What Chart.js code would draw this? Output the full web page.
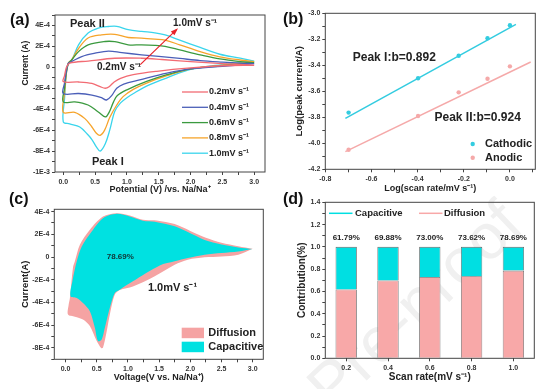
<!DOCTYPE html>
<html>
<head>
<meta charset="utf-8">
<script src="https://cdn.jsdelivr.net/npm/chart.js@4.4.1/dist/chart.umd.min.js"></script>
<style>
body{margin:0;background:#fff;width:553px;height:389px;overflow:hidden;position:relative}
.p{position:absolute}
</style>
</head>
<body>
<div class="p" style="left:0;top:0;width:276px;height:195px"><canvas id="ca"></canvas></div>
<div class="p" style="left:276px;top:0;width:277px;height:195px"><canvas id="cb"></canvas></div>
<div class="p" style="left:0;top:185px;width:276px;height:204px"><canvas id="cc"></canvas></div>
<div class="p" style="left:276px;top:185px;width:277px;height:204px"><canvas id="cd"></canvas></div>
<script>
// (a) CV loops, current in units of 1E-4 A; each loop runs 3.0V -> 0V -> 3.0V
const rates = ["0.2mV s⁻¹","0.4mV s⁻¹","0.6mV s⁻¹","0.8mV s⁻¹","1.0mV s⁻¹"];
const v02 = [3.0,2.5,2.0,1.47,1.1,0.9,0.8,0.72,0.66,0.58,0.45,0.24,0.0, 0.02,0.05,0.1,0.39,0.81,1.23,1.55,2.0,2.5,3.0];
const i02 = [0.2,0.15,-0.06,-0.38,-0.7,-1.05,-1.4,-1.85,-2.0,-1.85,-1.54,-1.4,-1.37, -0.8,0.0,0.4,0.6,0.87,0.87,0.75,0.55,0.35,0.2];
const v04 = [3.0,2.5,2.0,1.63,1.2,0.95,0.84,0.76,0.68,0.6,0.45,0.24,0.0, 0.02,0.05,0.08,0.13,0.29,0.5,0.71,0.92,1.23,1.5,1.83,2.15,2.5,2.78,3.0];
const i04 = [0.35,0.1,-0.15,-0.55,-1.2,-1.6,-2.0,-2.7,-3.12,-2.9,-2.65,-2.5,-2.5, -1.5,-0.3,0.4,0.55,1.03,1.35,1.55,1.4,1.2,1.05,0.85,0.65,0.5,0.4,0.35];
const v06 = [3.0,2.5,2.0,1.63,1.31,1.0,0.85,0.79,0.72,0.66,0.55,0.39,0.18,0.0, 0.02,0.05,0.08,0.13,0.24,0.39,0.66,0.81,1.02,1.23,1.44,1.6,1.83,2.15,2.46,2.78,3.0];
const i06 = [0.45,0.15,-0.15,-0.7,-1.35,-2.15,-2.7,-3.3,-4.3,-4.74,-4.26,-3.6,-3.3,-3.3, -2.0,-0.4,0.4,0.7,1.5,2.15,2.47,2.45,2.15,2.15,2.1,2.0,1.67,1.2,0.8,0.55,0.45];
const v08 = [3.0,2.5,2.0,1.63,1.31,1.1,0.94,0.84,0.73,0.65,0.58,0.52,0.45,0.34,0.18,0.0, 0.02,0.05,0.08,0.13,0.24,0.39,0.6,0.81,1.02,1.23,1.44,1.6,1.83,2.15,2.46,2.78,3.0];
const i08 = [0.55,0.2,-0.15,-0.8,-1.5,-2.1,-2.8,-3.6,-4.8,-6.0,-6.5,-6.3,-5.7,-4.9,-4.3,-4.3, -2.5,-0.5,0.4,0.7,1.8,2.8,3.1,3.15,2.85,2.8,2.7,2.6,2.15,1.5,1.0,0.7,0.55];
const v10 = [3.0,2.5,2.0,1.63,1.36,1.13,1.0,0.9,0.81,0.73,0.66,0.58,0.52,0.45,0.38,0.26,0.1,0.0, 0.02,0.05,0.08,0.13,0.24,0.39,0.55,0.71,0.84,1.02,1.23,1.44,1.6,1.83,2.15,2.46,2.78,3.0];
const i10 = [0.58,0.26,-0.2,-1.0,-1.66,-2.4,-2.9,-3.4,-4.2,-6.0,-7.3,-8.0,-7.6,-6.9,-6.4,-5.7,-5.4,-5.2, -3.0,-0.5,0.3,0.6,2.15,3.27,3.75,3.9,3.92,3.6,3.43,3.3,3.1,2.6,1.9,1.25,0.87,0.6];
const yTicksA = {"4":"4E-4","2":"2E-4","0":"0","-2":"-2E-4","-4":"-4E-4","-6":"-6E-4","-8":"-8E-4","-10":"-1E-3"};

// (b) log peak current vs log scan rate
const logRate = [-0.699,-0.398,-0.222,-0.097,0.0];
const cathodic = [-3.764,-3.50,-3.326,-3.192,-3.092];
const anodic = [-4.05,-3.79,-3.608,-3.503,-3.408];
const cathFitX = [-0.713,0.026];
const cathFitY = [-3.808,-3.085];
const anodFitX = [-0.713,0.09];
const anodFitY = [-4.064,-3.375];

// (c) 1.0 mV/s split into total (diffusion) and capacitive loops
const vTotal = [3.0,2.77,2.5,2.23,1.96,1.75,1.43,1.08,0.87,0.79,0.71,0.66,0.6,0.57,0.5,0.39,0.28,0.15,0.04, 0.05,0.07,0.12,0.15,0.23,0.39,0.6,0.82,1.03,1.24,1.46,1.75,2.0,2.25,2.5,2.77,3.0];
const iTotal = [0.72,0.2,0.05,-0.03,-0.24,-0.68,-1.7,-2.6,-2.9,-3.3,-5.06,-6.53,-7.98,-8.0,-7.4,-6.08,-5.5,-5.25,-5.06, -4.2,-3.6,-0.9,-0.38,1.08,2.4,3.56,3.86,3.65,3.27,3.22,2.9,2.3,1.7,1.25,0.95,0.72];
const vCap = [3.0,2.77,2.5,2.23,1.96,1.75,1.51,1.08,0.87,0.79,0.71,0.63,0.58,0.52,0.47,0.39,0.28,0.18,0.08, 0.11,0.18,0.26,0.42,0.6,0.82,1.03,1.24,1.43,1.75,1.96,2.23,2.5,2.77,3.0];
const iCap = [0.7,0.49,0.35,0.2,-0.09,-0.38,-0.75,-2.14,-2.87,-3.16,-4.47,-6.23,-7.25,-7.4,-6.23,-4.77,-4.04,-3.6,-3.45, -2.14,-0.38,0.93,2.25,3.42,3.8,3.57,3.2,3.1,2.7,2.2,1.5,1.1,0.84,0.7];

// (d) contribution bars
const scanRates = ["0.2","0.4","0.6","0.8","1.0"];
const lowerPart = [0.6179,0.6988,0.7300,0.7362,0.7869];
const upperPart = [0.3821,0.3012,0.2700,0.2638,0.2131];
const pctLabels = ["61.79%","69.88%","73.00%","73.62%","78.69%"];

const FAM = '"Liberation Sans", Arial, sans-serif';
const f = s => 'bold ' + s + 'px ' + FAM;
Chart.defaults.font.family = FAM;
Chart.defaults.font.weight = 'bold';
Chart.defaults.color = '#333';
Chart.defaults.animation = false;
Chart.defaults.maintainAspectRatio = false;
Chart.defaults.plugins.legend.display = false;
Chart.defaults.plugins.tooltip.enabled = false;

const pts = (xs, ys) => xs.map((x, i) => ({x: x, y: ys[i]}));
const isStep = (v, s) => Math.abs(v / s - Math.round(v / s)) < 1e-6;
const fix1 = v => Math.abs(v) < 1e-9 ? '0.0' : v.toFixed(1);

function axis(o) {
  return {
    type: o.type || 'linear', min: o.min, max: o.max, stacked: o.stacked,
    offset: o.offset || false,
    border: {display: false},
    grid: {drawOnChartArea: false, drawTicks: true, tickLength: 3, tickColor: '#444', offset: false},
    ticks: {stepSize: o.step, includeBounds: false, autoSkip: false, maxRotation: 0, padding: o.pad, font: {size: 7}, color: '#333', callback: o.cb},
    title: {display: o.title !== '', text: o.title, font: {size: o.ts || 9}, color: '#222', padding: o.tp},
    afterFit: o.fit
  };
}

function panelPlugin(label, lx, ly, draw) {
  return {
    id: 'panel' + label,
    afterDraw(chart) {
      const ctx = chart.ctx, a = chart.chartArea;
      ctx.save();
      ctx.strokeStyle = '#444'; ctx.lineWidth = 1;
      ctx.strokeRect(a.left, a.top, a.right - a.left, a.bottom - a.top);
      ctx.fillStyle = '#111'; ctx.font = f(16); ctx.textBaseline = 'middle'; ctx.textAlign = 'left';
      ctx.fillText(label, lx, ly);
      if (draw) draw(chart, ctx, a);
      ctx.restore();
    }
  };
}

function text(ctx, s, x, y, size, color, align) {
  ctx.font = f(size); ctx.fillStyle = color || '#222';
  ctx.textAlign = align || 'left'; ctx.textBaseline = 'middle';
  ctx.fillText(s, x, y);
}

// ---------- (a)
const colorsA = ['#f26b73','#4b5fb8','#3b9a3f','#f6a42b','#3ad5ec'];
const loopsA = [[v02,i02],[v04,i04],[v06,i06],[v08,i08],[v10,i10]];
new Chart(document.getElementById('ca'), {
  type: 'line',
  data: {
    datasets: loopsA.map((l, k) => ({
      label: rates[k], data: pts(l[0], l[1]), borderColor: colorsA[k],
      borderWidth: 1.3, pointRadius: 0, tension: 0.35, fill: false
    }))
  },
  options: {
    layout: {padding: {top: 15, right: 11, left: 0, bottom: 0}},
    scales: {
      x: axis({min: -0.13, max: 3.17, step: 0.25, pad: 3, title: 'Potential (V) /vs. Na/Na⁺', tp: {top: 0, bottom: 0},
        cb: v => isStep(v, 0.5) ? fix1(v) : '', fit: s => { s.height = 23; }}),
      y: axis({min: -10, max: 5, step: 1, pad: 2, title: '',
        cb: v => isStep(v, 2) ? yTicksA[String(Math.round(v))] : '', fit: s => { s.width = 55; }})
    }
  },
  plugins: [panelPlugin('(a)', 10, 21, (chart, ctx, a) => {
    const X = v => chart.scales.x.getPixelForValue(v), Y = v => chart.scales.y.getPixelForValue(v);
    // y axis title sits level with the zero line in the original
    ctx.save(); ctx.translate(26, Y(0.4)); ctx.rotate(-Math.PI / 2);
    text(ctx, 'Current (A)', 0, 0, 8.5, '#222', 'center'); ctx.restore();
    text(ctx, 'Peak II', X(0.105), Y(4.1), 11, '#222');
    text(ctx, 'Peak I', X(0.45), Y(-9.07), 11, '#222');
    text(ctx, rates[4], X(1.725), Y(4.2), 10, '#222');
    text(ctx, rates[0], X(0.53), Y(-0.03), 10, '#222');
    // arrow
    const x1 = X(1.21), y1 = Y(0.26), x2 = X(1.78), y2 = Y(3.6);
    ctx.strokeStyle = '#e8232a'; ctx.fillStyle = '#e8232a'; ctx.lineWidth = 1.2;
    ctx.beginPath(); ctx.moveTo(x1, y1); ctx.lineTo(x2, y2); ctx.stroke();
    const ang = Math.atan2(y2 - y1, x2 - x1);
    ctx.beginPath(); ctx.moveTo(x2 + 2 * Math.cos(ang), y2 + 2 * Math.sin(ang));
    ctx.lineTo(x2 - 6 * Math.cos(ang - 0.45), y2 - 6 * Math.sin(ang - 0.45));
    ctx.lineTo(x2 - 6 * Math.cos(ang + 0.45), y2 - 6 * Math.sin(ang + 0.45));
    ctx.closePath(); ctx.fill();
    // legend
    chart.data.datasets.forEach((d, k) => {
      const y = 92 + k * 15.3;
      ctx.strokeStyle = d.borderColor; ctx.lineWidth = 1.3;
      ctx.beginPath(); ctx.moveTo(182, y); ctx.lineTo(208, y); ctx.stroke();
      text(ctx, d.label, 209, y, 9, '#222');
    });
  })]
});

// ---------- (b)
new Chart(document.getElementById('cb'), {
  type: 'line',
  data: {
    datasets: [
      {label: 'Cathodic', data: pts(logRate, cathodic), showLine: false, pointRadius: 2.2, pointBackgroundColor: '#33cce0', pointBorderWidth: 0},
      {label: 'Anodic', data: pts(logRate, anodic), showLine: false, pointRadius: 2.2, pointBackgroundColor: '#f5a9a9', pointBorderWidth: 0},
      {data: pts(cathFitX, cathFitY), borderColor: '#33cce0', borderWidth: 1.5, pointRadius: 0},
      {data: pts(anodFitX, anodFitY), borderColor: '#f5a9a9', borderWidth: 1.5, pointRadius: 0}
    ]
  },
  options: {
    layout: {padding: {top: 13.3, right: 17.7, left: 0, bottom: 0}},
    scales: {
      x: axis({min: -0.8, max: 0.11, step: 0.1, pad: 3, title: 'Log(scan rate/mV s⁻¹)', tp: {top: 0, bottom: 1.3},
        cb: v => isStep(v, 0.2) ? fix1(v) : '', fit: s => { s.height = 25.7; }}),
      y: axis({min: -4.2, max: -3.0, step: 0.1, pad: 2, title: 'Log(peak current/A)', ts: 9.5, tp: {top: 17.6, bottom: 0},
        cb: v => isStep(v, 0.2) ? fix1(v) : '', fit: s => { s.width = 49.3; }})
    }
  },
  plugins: [panelPlugin('(b)', 7, 20, (chart, ctx, a) => {
    const X = v => chart.scales.x.getPixelForValue(v), Y = v => chart.scales.y.getPixelForValue(v);
    text(ctx, 'Peak I:b=0.892', X(-0.681), Y(-3.344), 12, '#222');
    text(ctx, 'Peak II:b=0.924', X(-0.327), Y(-3.805), 12, '#222');
    [['Cathodic', '#33cce0', 144], ['Anodic', '#f5a9a9', 157.7]].forEach(r => {
      ctx.fillStyle = r[1]; ctx.beginPath(); ctx.arc(196.7, r[2], 2.2, 0, Math.PI * 2); ctx.fill();
      text(ctx, r[0], 209, r[2], 11, '#222');
    });
  })]
});

// ---------- (c)
new Chart(document.getElementById('cc'), {
  type: 'line',
  data: {
    datasets: [
      {label: 'Capacitive', data: pts(vCap, iCap), borderColor: 'rgba(0,0,0,0)', backgroundColor: '#00e1e1', pointRadius: 0, tension: 0.3, fill: 'shape'},
      {label: 'Diffusion', data: pts(vTotal, iTotal), borderColor: 'rgba(0,0,0,0)', backgroundColor: '#f5a3a3', pointRadius: 0, tension: 0.3, fill: 'shape'}
    ]
  },
  options: {
    layout: {padding: {top: 24.3, right: 12.7, left: 0, bottom: 0}},
    scales: {
      x: axis({min: -0.18, max: 3.17, step: 0.25, pad: 3, title: 'Voltage(V vs. Na/Na⁺)', tp: {top: 0, bottom: 5.9},
        cb: v => isStep(v, 0.5) ? fix1(v) : '', fit: s => { s.height = 29.7; }}),
      y: axis({min: -9, max: 4.2, step: 1, pad: 2, title: 'Current(A)', ts: 9.5, tp: {top: 19.3, bottom: 0},
        cb: v => isStep(v, 2) ? yTicksA[String(Math.round(v))] : '', fit: s => { s.width = 54.3; }})
    }
  },
  plugins: [panelPlugin('(c)', 9, 15, (chart, ctx, a) => {
    const X = v => chart.scales.x.getPixelForValue(v), Y = v => chart.scales.y.getPixelForValue(v);
    text(ctx, '78.69%', X(0.878), Y(0.03), 8, '#133', 'center');
    text(ctx, rates[4], X(1.32), Y(-2.72), 11, '#222');
    [['Diffusion', '#f5a3a3', 142.7], ['Capacitive', '#00e1e1', 156.7]].forEach(r => {
      ctx.fillStyle = r[1]; ctx.fillRect(181.7, r[2], 22.3, 10.5);
      text(ctx, r[0], 208.3, r[2] + 5.3, 11, '#222');
    });
  })]
});

// ---------- (d)
const watermark = {
  id: 'watermark',
  beforeDraw(chart) {
    const ctx = chart.ctx;
    ctx.save();
    ctx.translate(250, 44); ctx.rotate(-0.76);
    ctx.font = '64px ' + FAM; ctx.fillStyle = '#f0f0f0';
    ctx.textAlign = 'right'; ctx.textBaseline = 'alphabetic';
    ctx.fillText('Journal Pre-proof', 0, 0);
    ctx.restore();
  }
};
new Chart(document.getElementById('cd'), {
  type: 'bar',
  data: {
    labels: scanRates,
    datasets: [
      {label: 'Diffusion', data: lowerPart, backgroundColor: '#f8a8a8', borderColor: '#666', borderWidth: 0.8, barPercentage: 0.51, categoryPercentage: 1},
      {label: 'Capacitive', data: upperPart, backgroundColor: '#00dfe2', borderColor: '#666', borderWidth: 0.8, barPercentage: 0.51, categoryPercentage: 1}
    ]
  },
  options: {
    layout: {padding: {top: 17.3, right: 18.7, left: 0, bottom: 0}},
    scales: {
      x: axis({type: 'category', offset: true, stacked: true, pad: 3, title: 'Scan rate(mV s⁻¹)', ts: 10, tp: {top: 0, bottom: 5.6},
        cb: function (v) { return this.getLabelForValue(v); }, fit: s => { s.height = 30.7; }}),
      y: axis({min: 0, max: 1.4, step: 0.1, stacked: true, pad: 2, title: 'Contribution(%)', ts: 10, tp: {top: 20.7, bottom: 0},
        cb: v => isStep(v, 0.2) ? fix1(v) : '', fit: s => { s.width = 49.3; }})
    }
  },
  plugins: [watermark, panelPlugin('(d)', 7, 15, (chart, ctx, a) => {
    const X = i => chart.scales.x.getPixelForValue(i), Y = v => chart.scales.y.getPixelForValue(v);
    pctLabels.forEach((s, i) => text(ctx, s, X(i), Y(1.08), 8, '#222', 'center'));
    ctx.lineWidth = 1.5;
    [['Capacitive', '#00dfe2', 53, 79], ['Diffusion', '#f8a8a8', 143, 168]].forEach(r => {
      ctx.strokeStyle = r[1]; ctx.beginPath(); ctx.moveTo(r[2], 28.3); ctx.lineTo(r[2] + 23.5, 28.3); ctx.stroke();
      text(ctx, r[0], r[3], 28.3, 9.5, '#222');
    });
  })]
});
</script>
</body>
</html>
